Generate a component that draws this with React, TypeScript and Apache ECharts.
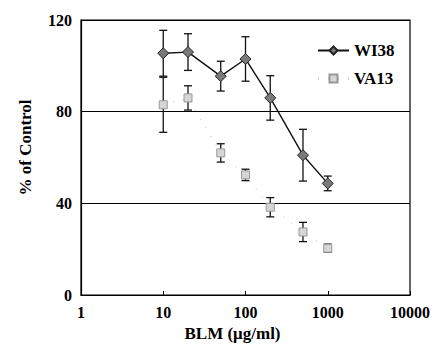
import React, { useEffect, useRef } from "react";
import * as echarts from "echarts";

const doses = [10, 20, 50, 100, 200, 500, 1000];
const wi38 = [105.5, 106, 95.5, 103, 86, 61, 48.7];
const wi38Err = [10, 8, 6.5, 9.7, 9.7, 11.3, 3.2];
const va13 = [83, 86, 62, 52.4, 38.3, 27.5, 20.4];
const va13Err = [12, 5.3, 4, 2.5, 4.2, 4.2, 1.8];
const xTicks = [1, 10, 100, 1000, 10000];
const yTicks = [0, 40, 80, 120];

const FONT = "'Liberation Serif', 'Times New Roman', serif";

function errSeries(name: string, vals: number[], errs: number[]) {
  const data = doses.map((d, i) => [d, vals[i] - errs[i], vals[i] + errs[i]]);
  return {
    type: "custom",
    name: name + "-err",
    z: 1,
    silent: true,
    renderItem: (params: any, api: any) => {
      const x = api.value(0);
      const lo = api.coord([x, api.value(1)]);
      const hi = api.coord([x, api.value(2)]);
      const cap = 4;
      const style = { stroke: "#111", lineWidth: 1.3 };
      return {
        type: "group",
        children: [
          { type: "line", shape: { x1: lo[0], y1: lo[1], x2: hi[0], y2: hi[1] }, style },
          { type: "line", shape: { x1: lo[0] - cap, y1: lo[1], x2: lo[0] + cap, y2: lo[1] }, style },
          { type: "line", shape: { x1: hi[0] - cap, y1: hi[1], x2: hi[0] + cap, y2: hi[1] }, style },
        ],
      };
    },
    data,
  };
}

export default function App() {
  const ref = useRef<HTMLDivElement>(null);
  useEffect(() => {
    document.body.style.margin = "0";
    if (!ref.current) return;
    const chart = echarts.init(ref.current, undefined, { renderer: "svg" });
    chart.setOption({
      animation: false,
      backgroundColor: "#fff",
      textStyle: { fontFamily: FONT, fontWeight: "bold", color: "#000" },
      grid: { left: 81, right: 22, top: 20, bottom: 61, show: true, borderColor: "#000", borderWidth: 1.2 },
      legend: {
        orient: "vertical",
        left: 312,
        top: 37,
        itemWidth: 31,
        itemHeight: 10,
        itemGap: 11,
        data: ["WI38", "VA13"],
        textStyle: { fontFamily: FONT, fontWeight: "bold", fontSize: 17, color: "#000" },
      },
      xAxis: {
        type: "log",
        logBase: 10,
        min: xTicks[0],
        max: xTicks[xTicks.length - 1],
        name: "BLM (μg/ml)",
        nameLocation: "middle",
        nameGap: 27,
        nameTextStyle: { fontFamily: FONT, fontWeight: "bold", fontSize: 17, color: "#000", padding: [0, 26, 0, 0] },
        axisLine: { lineStyle: { color: "#000", width: 1.2 } },
        axisTick: { inside: true, length: 4, lineStyle: { color: "#000" } },
        axisLabel: {
          fontFamily: FONT, fontWeight: "bold", fontSize: 16, color: "#000", margin: 9,
          formatter: (v: number) => String(Math.round(v)),
        },
        splitLine: { show: false },
      },
      yAxis: {
        type: "value",
        min: yTicks[0],
        max: yTicks[yTicks.length - 1],
        interval: 40,
        name: "% of Control",
        nameLocation: "middle",
        nameGap: 47,
        nameTextStyle: { fontFamily: FONT, fontWeight: "bold", fontSize: 17, color: "#000", padding: [0, 0, 0, 20] },
        axisLine: { show: true, lineStyle: { color: "#000", width: 1.2 } },
        axisTick: { show: false },
        axisLabel: { fontFamily: FONT, fontWeight: "bold", fontSize: 16, color: "#000", margin: 9 },
        splitLine: { show: true, lineStyle: { color: "#000", width: 1 } },
      },
      series: [
        errSeries("WI38", wi38, wi38Err),
        errSeries("VA13", va13, va13Err),
        {
          type: "line",
          name: "WI38",
          z: 3,
          data: doses.map((d, i) => [d, wi38[i]]),
          symbol: "diamond",
          symbolSize: 11,
          lineStyle: { color: "#111", width: 1.4 },
          itemStyle: { color: "#7a7a7a", borderColor: "#222", borderWidth: 1 },
        },
        {
          type: "line",
          name: "VA13",
          z: 3,
          data: doses.map((d, i) => [d, va13[i]]),
          symbol: "rect",
          symbolSize: 8,
          lineStyle: { color: "#bbb", width: 1, type: [1, 9] },
          itemStyle: { color: "#d6d6d6", borderColor: "#999", borderWidth: 1 },
        },
      ],
    });
    return () => chart.dispose();
  }, []);
  return <div ref={ref} style={{ width: 433, height: 356 }} />;
}
